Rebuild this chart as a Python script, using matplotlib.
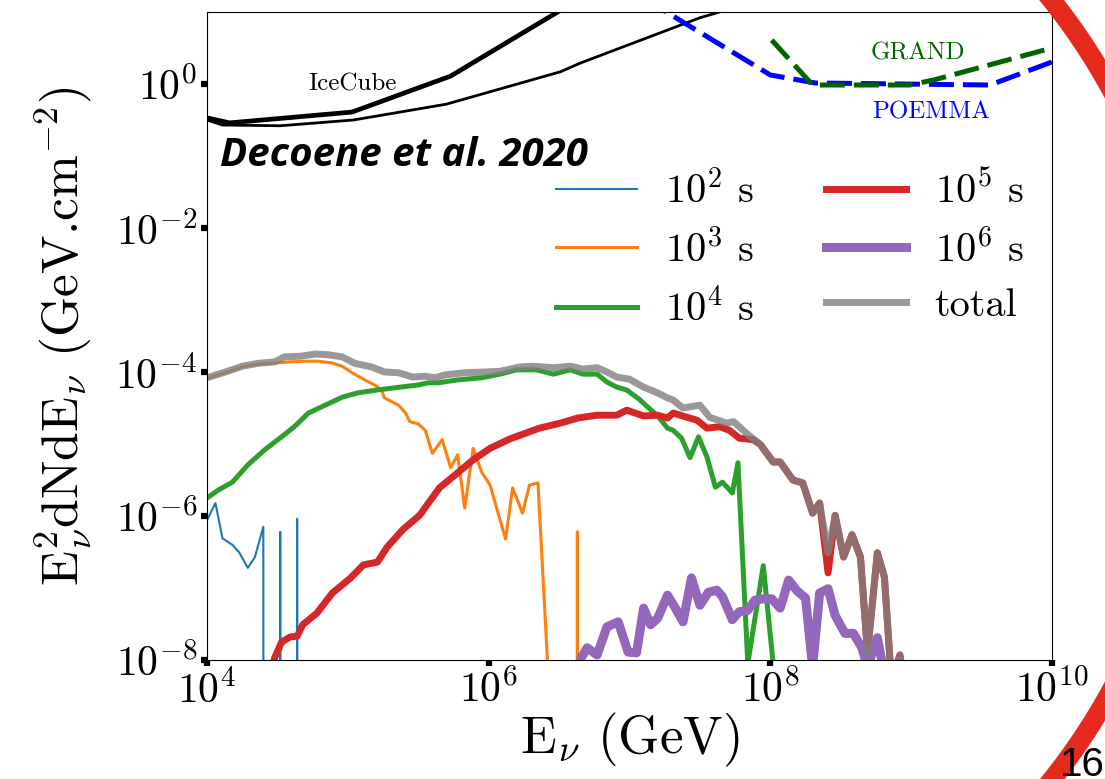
import numpy as np
import matplotlib
matplotlib.use("Agg")
import matplotlib.pyplot as plt
from matplotlib.patches import Arc

plt.rcParams["font.family"] = ["cmr10", "DejaVu Serif"]
plt.rcParams["mathtext.fontset"] = "cm"
plt.rcParams["axes.formatter.use_mathtext"] = True

ninf = -np.inf

# time-bin spectra, log10(E/GeV) and log10(E^2 dN/dE)
loge_1e2 = [4.0, 4.06, 4.11, 4.18, 4.23, 4.29, 4.34, 4.40, 4.46, 4.52, 4.57, 4.64, 4.70]
logf_1e2 = [-6.06, -5.82, -6.31, -6.40, -6.51, -6.72, -6.57, -6.15, ninf, -6.22, ninf, -6.04, ninf]

loge_1e3 = [4.0, 4.13, 4.25, 4.36, 4.48, 4.58, 4.70, 4.79, 4.89, 4.96,
            5.03, 5.12, 5.19, 5.24, 5.26, 5.36, 5.41, 5.44, 5.50, 5.55,
            5.60, 5.67, 5.73, 5.78, 5.83, 5.89, 5.95, 6.01, 6.12, 6.17,
            6.24, 6.29, 6.35, 6.42, 6.50, 6.56, 6.63, 6.70]
logf_1e3 = [-4.09, -4.01, -3.93, -3.89, -3.875, -3.86, -3.85, -3.85, -3.875, -3.92,
            -4.01, -4.11, -4.18, -4.25, -4.36, -4.46, -4.57, -4.69, -4.72, -4.81,
            -5.13, -4.94, -5.33, -5.15, -5.89, -5.06, -5.39, -5.57, -6.32, -5.61,
            -5.96, -5.57, -5.54, -8.1, ninf, ninf, -6.22, ninf]

loge_1e4 = [4.0, 4.08, 4.18, 4.29, 4.41, 4.53, 4.62, 4.72, 4.84, 4.96,
            5.07, 5.21, 5.33, 5.50, 5.57, 5.64, 5.78, 5.95, 6.08, 6.20,
            6.34, 6.46, 6.58, 6.67, 6.77, 6.84, 6.91, 6.98, 7.07, 7.12,
            7.20, 7.27, 7.31, 7.37, 7.43, 7.49, 7.55, 7.61, 7.66, 7.73,
            7.77, 7.84, 7.95, 8.02, 8.10]
logf_1e4 = [-5.75, -5.64, -5.53, -5.29, -5.08, -4.90, -4.76, -4.57, -4.46, -4.35,
            -4.29, -4.25, -4.22, -4.18, -4.15, -4.15, -4.11, -4.08, -4.03, -3.97,
            -3.97, -4.03, -3.97, -4.03, -4.03, -4.14, -4.21, -4.25, -4.38, -4.47,
            -4.61, -4.78, -4.81, -4.92, -5.19, -4.90, -5.18, -5.60, -5.53, -5.68,
            -5.26, -8.05, -6.69, -8.05, ninf]

loge_1e5 = [4.42, 4.48, 4.53, 4.59, 4.64, 4.68, 4.78, 4.89, 5.02, 5.11,
            5.21, 5.28, 5.39, 5.51, 5.65, 5.78, 5.89, 6.01, 6.15, 6.22,
            6.36, 6.51, 6.63, 6.77, 6.91, 6.98, 7.10, 7.20, 7.27, 7.31,
            7.41, 7.48, 7.55, 7.64, 7.71, 7.78, 7.88, 7.93, 8.02, 8.07,
            8.16, 8.23, 8.30, 8.35, 8.41, 8.46, 8.52, 8.58, 8.64, 8.69,
            8.76, 8.81, 8.86, 8.92, 8.97]
logf_1e5 = [-8.4, -7.97, -7.75, -7.68, -7.67, -7.51, -7.35, -7.07, -6.86, -6.68,
            -6.64, -6.43, -6.19, -5.99, -5.61, -5.40, -5.22, -5.06, -4.93, -4.88,
            -4.78, -4.71, -4.64, -4.60, -4.60, -4.53, -4.61, -4.60, -4.64, -4.57,
            -4.63, -4.67, -4.78, -4.76, -4.81, -4.92, -4.94, -5.01, -5.25, -5.25,
            -5.50, -5.54, -5.96, -5.82, -6.79, -5.99, -6.57, -6.26, -6.57, -7.90,
            -6.51, -6.85, -8.3, -7.93, -8.5]

loge_1e6 = [6.60, 6.66, 6.70, 6.77, 6.84, 6.92, 6.99, 7.05, 7.10, 7.15,
            7.20, 7.27, 7.32, 7.38, 7.44, 7.50, 7.56, 7.62, 7.66, 7.73,
            7.78, 7.84, 7.89, 7.95, 8.01, 8.07, 8.13, 8.19, 8.25, 8.30,
            8.35, 8.41, 8.46, 8.53, 8.59, 8.65, 8.69, 8.76, 8.80, 8.85]
logf_1e6 = [-8.3, -7.96, -7.83, -7.93, -7.54, -7.47, -7.89, -7.90, -7.28, -7.51,
            -7.42, -7.10, -7.26, -7.47, -6.86, -7.24, -7.06, -7.03, -7.12, -7.44,
            -7.33, -7.31, -7.17, -7.15, -7.15, -7.28, -6.89, -7.04, -7.14, -8.1,
            -7.07, -7.01, -7.38, -7.63, -7.63, -7.83, -8.1, -7.69, -8.1, -8.4]

loge_tot = [4.0, 4.13, 4.25, 4.36, 4.48, 4.55, 4.67, 4.77, 4.86, 4.96,
            5.05, 5.17, 5.26, 5.36, 5.46, 5.55, 5.62, 5.69, 5.83, 5.97,
            6.08, 6.22, 6.31, 6.46, 6.58, 6.67, 6.77, 6.84, 6.91, 7.00,
            7.10, 7.20, 7.27, 7.31, 7.38, 7.50, 7.57, 7.69, 7.74, 7.83,
            7.93, 8.02, 8.07, 8.16, 8.23, 8.30, 8.35, 8.41, 8.46, 8.52,
            8.58, 8.64, 8.69, 8.76, 8.81, 8.86, 8.92, 8.97]
logf_tot = [-4.08, -4.0, -3.92, -3.88, -3.86, -3.79, -3.78, -3.75, -3.76, -3.79,
            -3.88, -3.93, -4.0, -4.01, -4.07, -4.06, -4.08, -4.04, -4.01, -4.0,
            -3.99, -3.93, -3.92, -3.94, -3.92, -3.96, -3.94, -4.0, -4.07, -4.10,
            -4.21, -4.29, -4.36, -4.39, -4.50, -4.46, -4.63, -4.71, -4.69, -4.85,
            -5.01, -5.25, -5.25, -5.50, -5.54, -5.96, -5.82, -6.51, -5.99, -6.57,
            -6.26, -6.57, -7.90, -6.51, -6.85, -8.3, -7.93, -8.5]

# sensitivity curves
loge_ic_thick = [3.9, 4.0, 4.16, 5.03, 5.73, 6.49, 7.0]
logf_ic_thick = [-0.42, -0.47, -0.54, -0.39, 0.11, 1.0, 1.6]
loge_ic_thin = [3.9, 4.0, 4.11, 4.52, 5.04, 5.70, 6.51, 6.65, 7.50, 7.64, 8.0]
logf_ic_thin = [-0.45, -0.5, -0.57, -0.58, -0.5, -0.28, 0.17, 0.29, 0.92, 1.0, 1.3]
loge_poemma = [7.0, 8.0, 8.32, 9.56, 10.0]
logf_poemma = [1.31, 0.125, 0.014, -0.014, 0.306]
loge_grand = [8.01, 8.30, 8.99, 9.16, 10.0]
logf_grand = [0.61, -0.014, -0.014, 0.056, 0.5]

series = [
    (loge_1e2, logf_1e2, "C0", 1.5, r"$10^2$ s"),
    (loge_1e3, logf_1e3, "C1", 2.2, r"$10^3$ s"),
    (loge_1e4, logf_1e4, "C2", 3.6, r"$10^4$ s"),
    (loge_1e5, logf_1e5, "C3", 5.0, r"$10^5$ s"),
    (loge_1e6, logf_1e6, "C4", 6.5, r"$10^6$ s"),
]


def p10(a):
    return 10.0 ** np.array(a, dtype=float)


fig = plt.figure(figsize=(11.05, 7.79), dpi=100)
ax = fig.add_axes([207 / 1105, 1 - 660 / 779, 845 / 1105, 648 / 779])

for le, lf, c, lw, lab in series:
    ax.plot(p10(le), p10(lf), color=c, lw=lw, label=lab)
ax.plot(p10(loge_tot), p10(logf_tot), color="gray", lw=5, alpha=0.8, label="total")

ax.plot(p10(loge_ic_thick), p10(logf_ic_thick), color="black", lw=3.4)
ax.plot(p10(loge_ic_thin), p10(logf_ic_thin), color="black", lw=2)
ax.plot(p10(loge_poemma), p10(logf_poemma), color="blue", lw=3.6, ls=(0, (5, 1.8)))
ax.plot(p10(loge_grand), p10(logf_grand), color="darkgreen", lw=3.6, ls=(0, (5, 1.8)))

ax.text(10**5.03, 10**-0.0, "IceCube", fontsize=18, ha="center", va="center")
ax.text(10**9.05, 10**0.43, "GRAND", fontsize=18, color="darkgreen", ha="center", va="center")
ax.text(10**9.14, 10**-0.39, "POEMMA", fontsize=18, color="blue", ha="center", va="center")

ax.set_xscale("log")
ax.set_yscale("log")
ax.set_xlim(1e4, 1e10)
ax.set_ylim(1e-8, 1e1)
ax.set_xticks([1e4, 1e6, 1e8, 1e10])
ax.set_yticks([1e-8, 1e-6, 1e-4, 1e-2, 1e0])
ax.xaxis.set_minor_locator(matplotlib.ticker.NullLocator())
ax.yaxis.set_minor_locator(matplotlib.ticker.NullLocator())
ax.tick_params(which="major", length=4, width=4.5, direction="out", labelsize=30, pad=3)

ax.set_xlabel(r"E$_\nu$ (GeV)", fontsize=38, labelpad=0)
ax.set_ylabel(r"E$_\nu^2$dNdE$_\nu$ (GeV.cm$^{-2}$)", fontsize=37, labelpad=16)

ax.legend(ncol=2, frameon=False, fontsize=29, loc="upper left",
          bbox_to_anchor=(0.413, 0.756), borderpad=0, borderaxespad=0,
          handlelength=2.0, handletextpad=0.7, columnspacing=1.8, labelspacing=0.47)

fig.text(220 / 1105, 1 - 155 / 779, "Decoene et al. 2020", fontsize=29,
         family=["Open Sans", "DejaVu Sans"], weight="bold", style="italic",
         va="center", ha="left")

# slide decoration
arc = Arc((5.62, 7.79 - 3.90), 12.52, 12.52, theta1=-50, theta2=50,
          transform=fig.dpi_scale_trans, color="#e62b1e", lw=14)
fig.add_artist(arc)
fig.text(1060 / 1105, 3 / 779, "16", fontsize=29, family=["Liberation Sans", "DejaVu Sans"],
         ha="left", va="baseline")

fig.savefig("out.png", dpi=100)
